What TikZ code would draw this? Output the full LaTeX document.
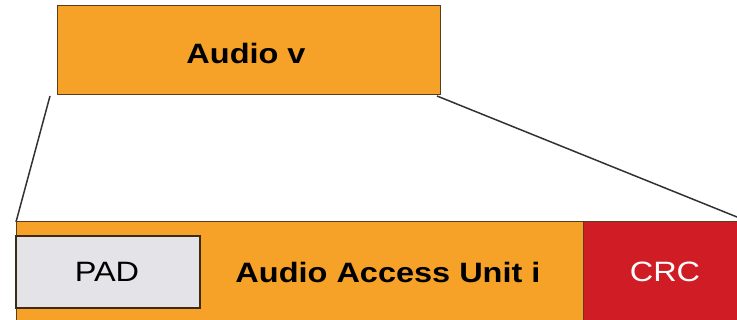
\documentclass[tikz,border=0pt]{standalone}
\usepackage{fontspec}
\setmainfont{Liberation Sans}
\usetikzlibrary{calc}
\definecolor{aorange}{RGB}{246,161,40}
\definecolor{ared}{RGB}{208,28,36}
\definecolor{agray}{RGB}{228,228,232}
\definecolor{aedge}{RGB}{90,60,30}
\definecolor{aline}{RGB}{50,50,50}
\newcommand{\wtxt}[1]{\scalebox{1.16}[1]{#1}}
\tikzset{
  blk/.style={inner sep=0pt, outer sep=0pt, anchor=north west},
  lbl/.style={font=\fontsize{28}{30}\selectfont, inner sep=0pt},
  zoomline/.style={draw=aline, line width=1.5pt},
}
\begin{document}
\begin{tikzpicture}[x=1pt,y=-1pt]
\useasboundingbox (0,0) rectangle (737,320);
% upper block
\node[blk, fill=aorange, draw=aedge, line width=1pt, minimum width=383pt, minimum height=89pt] (audiov) at (57,6) {};
\node[lbl] (audiovt) at (246,53) {\wtxt{\bfseries Audio v}};
% lower block
\node[blk, fill=aorange, minimum width=722pt, minimum height=99pt] (unit) at (16,222) {};
\draw[draw=aedge, line width=1pt] (unit.south west) -- (unit.north west) -- (unit.north east);
\node[blk, fill=ared, minimum width=154pt, minimum height=98pt] (crc) at (583,222.5) {};
\draw[draw=aedge, line width=1pt] (crc.north west) -- (crc.south west);
\node[blk, fill=agray, draw=aedge!70!black, line width=1.3pt, minimum width=184pt, minimum height=72pt] (pad) at (16,236) {};
\node[lbl] (padt) at (107,272) {\wtxt{PAD}};
\node[lbl] (unitt) at (388,272) {\wtxt{\bfseries Audio Access Unit i}};
\node[lbl, text=white] (crct) at (665,272) {\wtxt{CRC}};
% zoom lines
\draw[zoomline] ($(audiov.south west)+(-7,1)$) -- (unit.north west);
\draw[zoomline] ($(audiov.south east)+(-3,1)$) -- ($(unit.north east)+(-1,-5)$);
\end{tikzpicture}
\end{document}
